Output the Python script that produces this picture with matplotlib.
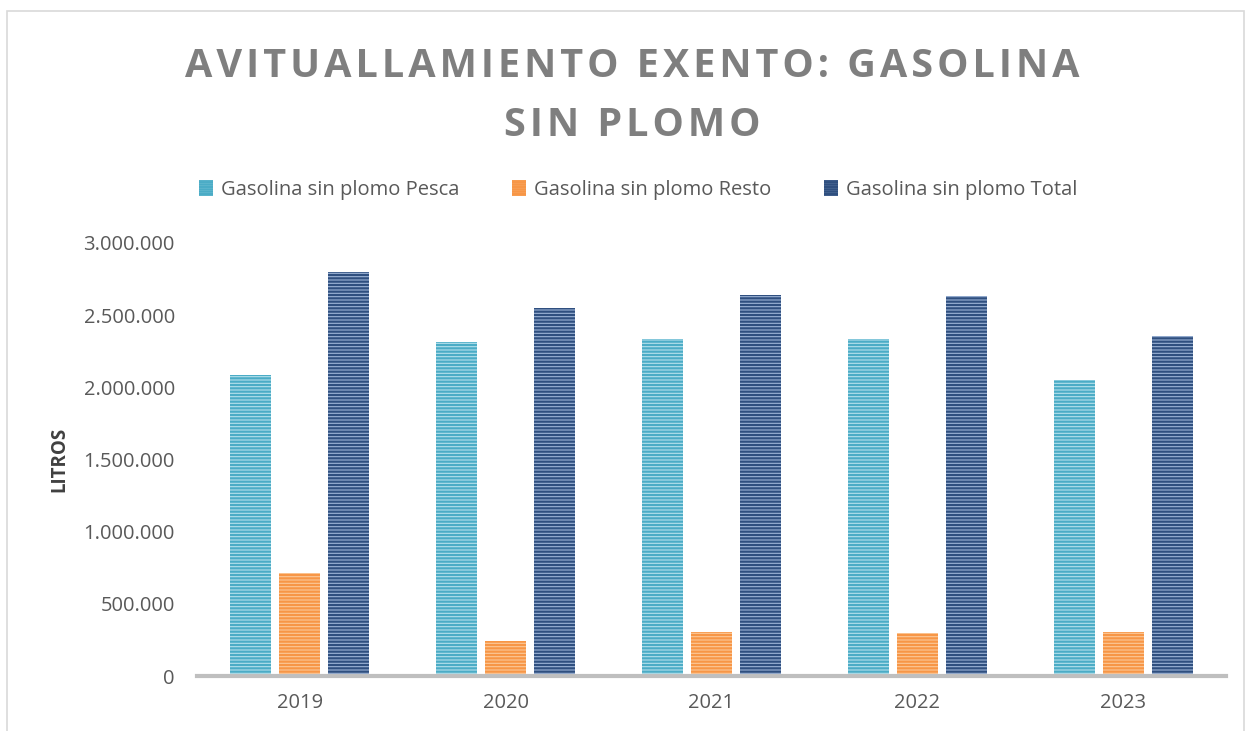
import matplotlib.pyplot as plt
import matplotlib.patches as mpatches
from matplotlib.ticker import FuncFormatter
import numpy as np

years = ['2019', '2020', '2021', '2022', '2023']
pesca = [2085000, 2312000, 2335000, 2335000, 2051000]
resto = [713000, 240000, 303000, 298000, 305000]
total = [2799000, 2552000, 2638000, 2633000, 2356000]
series_names = ['Gasolina sin plomo Pesca', 'Gasolina sin plomo Resto', 'Gasolina sin plomo Total']
title_lines = ['AVITUALLAMIENTO EXENTO: GASOLINA', 'SIN PLOMO']

faces = ['#b4e0ec', '#fcc898', '#9db4d6']
stripes = ['#4bacc6', '#f79646', '#2f4f7f']

plt.rcParams['font.family'] = ['Open Sans', 'DejaVu Sans']
plt.rcParams['hatch.linewidth'] = 1.6


def spaced(s):
    # letter spacing with hair spaces
    return '\u200a'.join(s)


fig = plt.figure(figsize=(12.51, 7.31), dpi=100)
ax = fig.add_axes([197/1251, 55/731, 1029/1251, 433/731])

# border of the chart area
fig.patches.append(mpatches.Rectangle((7/1251, -0.01), 1237/1251, 1 - 11/731 + 0.01,
                                      transform=fig.transFigure, fill=False,
                                      edgecolor='#d9d9d9', linewidth=1.2))

x = np.arange(len(years))
w = 0.2
step = 0.238
for i, vals in enumerate([pesca, resto, total]):
    ax.bar(x + (i - 1) * step, vals, w, color=faces[i], edgecolor=stripes[i],
           linewidth=0, hatch='-----', label=series_names[i])

ax.set_xlim(-0.5, 4.5)
ax.set_ylim(0, 3000000)
ax.set_yticks(np.arange(0, 3000001, 500000))
ax.yaxis.set_major_formatter(FuncFormatter(lambda v, p: f'{int(v):,}'.replace(',', '.')))
ax.set_xticks(x)
ax.set_xticklabels(years)
ax.tick_params(length=0, labelsize=14.5, colors='#595959')
ax.tick_params(axis='x', pad=12)
ax.tick_params(axis='y', pad=16)
for s in ['top', 'right', 'left']:
    ax.spines[s].set_visible(False)
ax.spines['bottom'].set_color('#bfbfbf')
ax.spines['bottom'].set_linewidth(3)

ax.set_ylabel('LITROS', fontsize=13.5, fontweight='bold', color='#404040', labelpad=10)

fig.text(0.505, 0.909, spaced(title_lines[0]),
         ha='center', va='center', fontsize=28.5, fontweight='bold', color='#7f7f7f')
fig.text(0.505, 0.828, spaced(title_lines[1]),
         ha='center', va='center', fontsize=28.5, fontweight='bold', color='#7f7f7f')

handles = [mpatches.Patch(facecolor=faces[i], edgecolor=stripes[i], linewidth=0,
                          hatch='-------') for i in range(3)]
fig.legend(handles, series_names, loc='center', bbox_to_anchor=(0.51, 0.74), ncol=3,
           frameon=False, fontsize=14.5, labelcolor='#595959', handlelength=0.7,
           handleheight=0.8, handletextpad=0.4, columnspacing=2.6)

fig.savefig('out.png', dpi=100)
